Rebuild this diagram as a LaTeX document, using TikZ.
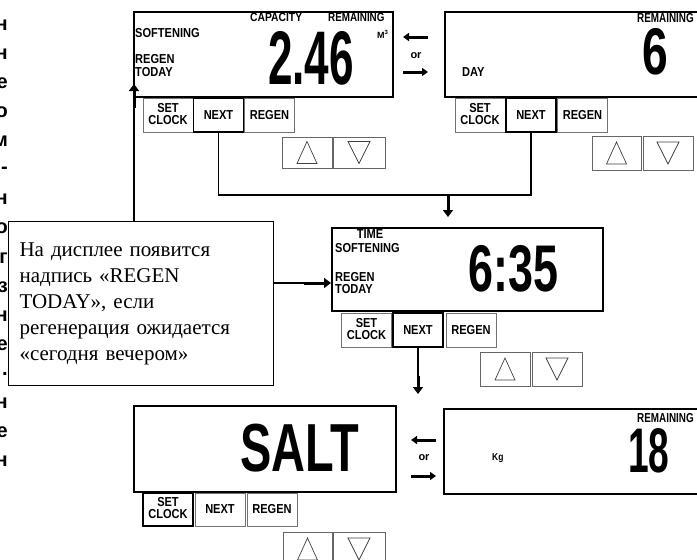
\documentclass[tikz,border=0pt]{standalone}
\usepackage{fontspec}
\usepackage{graphicx}
\setmainfont{Liberation Serif}
\newfontfamily\lcdfont{Liberation Sans}
\usetikzlibrary{arrows.meta}
\newcommand{\cnd}[2][0.85]{\scalebox{#1}[1]{#2}}
\newcommand{\twol}[2]{\renewcommand{\arraystretch}{0.72}\begin{tabular}{@{}c@{}}#1\\#2\end{tabular}}
\newcommand{\bigd}[3]{\scalebox{#1}[1]{\fontsize{#2}{#2}\selectfont #3}}
\tikzset{
  panel/.style={draw, line width=1.6pt, inner sep=0pt, anchor=north west},
  btn/.style={draw=black!55, line width=0.7pt, minimum width=50pt, minimum height=34pt, inner sep=0pt,
    font=\lcdfont\bfseries\fontsize{13}{13}\selectfont},
  nbtn/.style={btn, draw=black, line width=1.4pt},
  abox/.style={draw=black!60, line width=0.7pt, minimum width=50pt, minimum height=33pt, inner sep=0pt},
  tri/.style={draw=black!75, line width=0.7pt, line join=miter},
  lab/.style={inner sep=0pt, font=\lcdfont\bfseries\fontsize{13}{13}\selectfont},
  smlab/.style={inner sep=0pt, font=\lcdfont\bfseries\fontsize{12}{12}\selectfont},
  digits/.style={inner sep=0pt, anchor=south west, font=\lcdfont\bfseries, text height=#1, text depth=0pt},
  conn/.style={line width=1.3pt},
  fat/.style={line width=3pt, -{Triangle[length=7pt,width=10pt]}},
  fatsm/.style={line width=3pt, -{Triangle[length=6pt,width=8pt]}},
  orlab/.style={inner sep=0pt, font=\lcdfont\bfseries\fontsize{11}{11}\selectfont},
  glyph/.style={inner sep=0pt, anchor=east, font=\lcdfont\bfseries\fontsize{20}{20}\selectfont},
}
\newcommand{\uptri}[1]{\draw[tri] ([xshift=-10pt,yshift=-11pt]#1.center) -- ([yshift=11pt]#1.center) -- ([xshift=10pt,yshift=-11pt]#1.center) -- cycle;}
\newcommand{\dntri}[1]{\draw[tri] ([xshift=-11pt,yshift=11pt]#1.center) -- ([yshift=-11pt]#1.center) -- ([xshift=11pt,yshift=11pt]#1.center) -- cycle;}
\begin{document}
\begin{tikzpicture}[x=1pt,y=-1pt]
\useasboundingbox (0,0) rectangle (697,560);
\fill[white] (0,0) rectangle (697,560);

% cut-off text at the left edge
\foreach \g [count=\i] in {н,н,е,о,м,-,н,о,г,з,н,е,.,н,е,н}
  \node[glyph] (g\i) at (8,{25+(\i-1)*29.1}) {\g};

% ---------- panel 1 ----------
\node[panel, minimum width=259pt, minimum height=85pt] (p1) at (133,11) {};
\node[lab, anchor=west] (p1soft) at (135,33) {\cnd{SOFTENING}};
\node[smlab, anchor=west] (p1cap) at (250,17.5) {\cnd[0.86]{CAPACITY}};
\node[smlab, anchor=west] (p1rem) at (328,17.5) {\cnd[0.82]{REMAINING}};
\node[lab, anchor=west] (p1regen) at (135,59) {\cnd{REGEN}};
\node[lab, anchor=west] (p1today) at (135,72) {\cnd{TODAY}};
\node[lab, anchor=west, font=\lcdfont\bfseries\fontsize{9}{9}\selectfont] (p1unit) at (377,34) {M\textsuperscript{3}};
\node[digits=54pt] (p1val) at (268,84.5) {\bigd{0.58}{76}{2.46}};
\node[btn] (p1set) at (168,115) {\cnd{\twol{SET}{CLOCK}}};
\node[nbtn] (p1next) at (218.5,115) {\cnd{NEXT}};
\node[btn] (p1regb) at (269.5,115) {\cnd{REGEN}};
\node[abox, minimum height=31pt] (p1up) at (307,152.5) {};
\node[abox, minimum width=52pt, minimum height=31pt] (p1dn) at (359,152.5) {};
\uptri{p1up}
\dntri{p1dn}

% ---------- "or" between panels 1 and 2 ----------
\coordinate (o1a) at (428,37);
\coordinate (o1b) at (403,37);
\coordinate (o1c) at (403,72);
\coordinate (o1d) at (428,72);
\draw[fatsm] (o1a) -- (o1b);
\draw[fatsm] (o1c) -- (o1d);
\node[orlab] (or1) at (416,56) {or};

% ---------- panel 2 ----------
\node[panel, minimum width=262pt, minimum height=85pt] (p2) at (444,11) {};
\node[lab, anchor=west] (p2rem) at (637,18) {\cnd[0.76]{REMAINING}};
\node[lab, anchor=west] (p2day) at (462,72) {\cnd{DAY}};
\node[digits=47pt] (p2val) at (642,75) {\bigd{0.7}{66}{6}};
\node[btn] (p2set) at (480,115) {\cnd{\twol{SET}{CLOCK}}};
\node[nbtn] (p2next) at (531,115) {\cnd{NEXT}};
\node[btn] (p2regb) at (582.5,115) {\cnd{REGEN}};
\node[abox, minimum width=49pt, minimum height=34pt] (p2up) at (616.5,153) {};
\node[abox, minimum height=34pt] (p2dn) at (668,153) {};
\uptri{p2up}
\dntri{p2dn}

% ---------- panel 3 ----------
\node[panel, minimum width=271pt, minimum height=83pt] (p3) at (331,227) {};
\node[lab] (p3time) at (370,234) {\cnd{TIME}};
\node[lab, anchor=west] (p3soft) at (335,248) {\cnd{SOFTENING}};
\node[lab, anchor=west] (p3regen) at (335,277) {\cnd{REGEN}};
\node[lab, anchor=west] (p3today) at (335,289) {\cnd{TODAY}};
\node[digits=47pt] (p3val) at (468,292) {\bigd{0.68}{66}{6:35}};
\node[btn] (p3set) at (366.5,330) {\cnd{\twol{SET}{CLOCK}}};
\node[nbtn] (p3next) at (418,330) {\cnd{NEXT}};
\node[btn] (p3regb) at (471,330) {\cnd{REGEN}};
\node[abox, minimum height=34pt] (p3up) at (505,369) {};
\node[abox, minimum height=34pt] (p3dn) at (557,369) {};
\uptri{p3up}
\dntri{p3dn}

% ---------- panel 4 ----------
\node[panel, minimum width=262pt, minimum height=86pt] (p4) at (133,405) {};
\node[digits=49pt] (p4val) at (240,472) {\bigd{0.69}{68}{SALT}};
\node[nbtn, minimum height=33pt] (p4set) at (168,509.5) {\cnd{\twol{SET}{CLOCK}}};
\node[btn, minimum height=33pt] (p4next) at (220,509.5) {\cnd{NEXT}};
\node[btn, minimum height=33pt] (p4regb) at (272,509.5) {\cnd{REGEN}};
\node[abox, minimum width=49pt, minimum height=34pt] (p4up) at (307.5,549) {};
\node[abox, minimum width=52pt, minimum height=34pt] (p4dn) at (359,549) {};
\uptri{p4up}
\dntri{p4dn}

% ---------- "or" between panels 4 and 5 ----------
\coordinate (o2a) at (436,440);
\coordinate (o2b) at (411,440);
\coordinate (o2c) at (411,476);
\coordinate (o2d) at (436,476);
\draw[fatsm] (o2a) -- (o2b);
\draw[fatsm] (o2c) -- (o2d);
\node[orlab] (or2) at (424,458) {or};

% ---------- panel 5 ----------
\node[panel, minimum width=262pt, minimum height=85pt] (p5) at (443,408) {};
\node[lab, anchor=west] (p5rem) at (637,418) {\cnd[0.76]{REMAINING}};
\node[lab, anchor=west, font=\lcdfont\bfseries\fontsize{10}{10}\selectfont] (p5kg) at (492,458) {\cnd{Kg}};
\node[digits=45pt] (p5val) at (628,473) {\bigd{0.59}{63}{18}};

% ---------- callout ----------
\node[draw, line width=1.1pt, anchor=north west, minimum width=265pt, minimum height=164pt,
  text width=243pt, inner xsep=11pt, align=left, font=\fontsize{21}{26}\selectfont] (callout) at (8,221)
  {На дисплее появится\\надпись «REGEN\\TODAY», если\\регенерация ожидается\\«сегодня вечером»};

% ---------- connectors ----------
\coordinate (jm) at (448,195);
\coordinate (jmt) at (448,217);
\draw[conn] (p1next.south) |- (jm) -| (p2next.south);
\draw[fat] (jm) -- (jmt);

\coordinate (c3) at (418,376);
\coordinate (c3t) at (418,394);
\draw[conn] (p3next.south) -- (c3);
\draw[fat] (c3) -- (c3t);

\coordinate (cR) at (273,283);
\coordinate (cRm) at (304,283);
\draw[conn] (cR) -- (cRm);
\draw[fat] (cRm) -- (p3.west |- cR);

\coordinate (cT) at (134,221);
\coordinate (cTm) at (134,108);
\coordinate (cTt) at (134,84);
\draw[conn] (cT) -- (cTm);
\draw[fat] (cTm) -- (cTt);
\end{tikzpicture}
\end{document}
